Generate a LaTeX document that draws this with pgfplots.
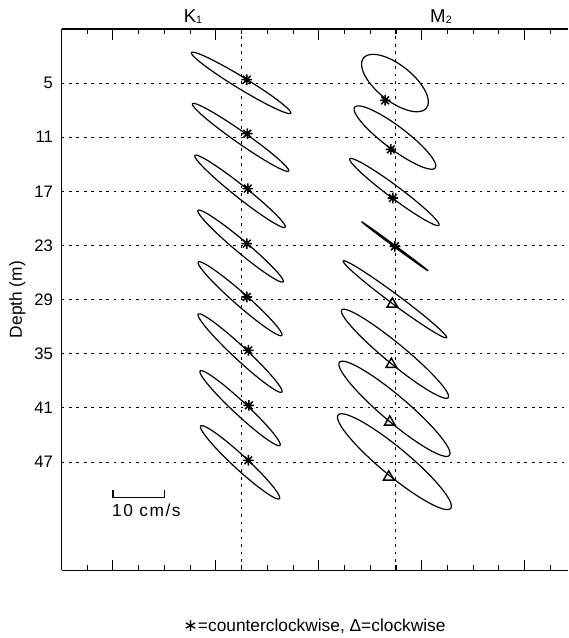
\documentclass[border=0pt]{standalone}
\usepackage{fontspec}
\setmainfont{Liberation Sans}
\newfontfamily\symfont{DejaVu Sans}
\usepackage{pgfplots}
\usepackage{pgfplotstable}
\pgfplotsset{compat=1.18}

% Tidal current ellipses: centre (u in cm/s, depth d in m),
% semi-major A and semi-minor B (cm/s), inclination th (deg, from east)
\pgfplotstableread{
u     d      A     B     th
34.9  4.98   11.3  1.15  -31.4
34.8  11.02  11.4  1.15  -35.0
34.7  17.0   11.2  1.2   -38.5
34.8  23.07  10.8  1.2   -40.0
34.7  28.9   10.8  1.25  -41.3
34.7  34.93  11.1  1.3   -43.0
34.7  41.03  10.6  1.3   -43.0
34.7  47.03  10.4  1.35  -42.7
64.8  5.0    7.8   3.5   -38.5
64.8  11.04  9.8   2.2   -37.0
64.7  17.08  10.8  1.2   -36.7
64.8  23.1   8.0   0.15  -36.4
64.8  28.97  12.5  0.95  -36.6
64.8  35.0   13.4  1.95  -39.5
64.7  41.1   14.0  2.5   -40.3
64.7  46.96  14.2  2.7   -39.7
}\ellipses

% phase points, counterclockwise rotation
\pgfplotstableread{
u     d
36.0  4.62
36.1  10.61
36.2  16.70
36.0  22.80
36.0  28.71
36.3  34.62
36.4  40.72
36.3  46.81
62.9  6.92
64.0  12.35
64.4  17.74
64.8  23.1
}\ccw

% phase points, clockwise rotation
\pgfplotstableread{
u     d
64.3  29.49
64.1  36.17
63.8  42.57
63.6  48.66
}\cw

% metres of depth per cm/s, so that ellipses keep true shape
\def\kdepth{0.5703}

% eight-armed asterisk
\pgfdeclareplotmark{ast8}{%
  \pgfpathmoveto{\pgfqpoint{-\pgfplotmarksize}{0pt}}%
  \pgfpathlineto{\pgfqpoint{\pgfplotmarksize}{0pt}}%
  \pgfpathmoveto{\pgfqpoint{0pt}{-\pgfplotmarksize}}%
  \pgfpathlineto{\pgfqpoint{0pt}{\pgfplotmarksize}}%
  \pgfpathmoveto{\pgfqpoint{-.72\pgfplotmarksize}{-.72\pgfplotmarksize}}%
  \pgfpathlineto{\pgfqpoint{.72\pgfplotmarksize}{.72\pgfplotmarksize}}%
  \pgfpathmoveto{\pgfqpoint{-.72\pgfplotmarksize}{.72\pgfplotmarksize}}%
  \pgfpathlineto{\pgfqpoint{.72\pgfplotmarksize}{-.72\pgfplotmarksize}}%
  \pgfusepathqstroke}

\tikzset{
  dotgrid/.style={black, line width=0.75pt, dash pattern=on 2pt off 3.6pt},
  ellipse line/.style={black, line width=0.9pt, no markers, domain=0:360, samples=181},
}

\begin{document}
\begin{tikzpicture}
\begin{axis}[
  name=ax,
  scale only axis,
  width=379.88pt, height=406.05pt,
  xmin=0, xmax=98.43, ymin=-1, ymax=59,
  y dir=reverse,
  clip=false,
  axis x line*=box,
  axis y line*=left,
  axis line style={line width=0.9pt},
  xtick={10,30,50,70,90},
  minor xtick={0,5,...,95},
  xticklabels={},
  xtick pos=both,
  ytick={5,11,17,23,29,35,41,47},
  ytick pos=left,
  y tick style={draw=none},
  tick align=inside,
  major tick length=8pt, minor tick length=4pt,
  every tick/.append style={black, line width=0.8pt},
  ymajorgrids,
  major grid style={dotgrid},
  extra x ticks={35,65},
  extra x tick labels={},
  extra x tick style={xmajorgrids=true, major tick length=0pt},
  /pgf/number format/assume math mode=true,
  yticklabel style={font=\fontsize{12.5}{14}\selectfont, inner sep=0pt, xshift=-6.2pt},
]
\pgfplotsforeachungrouped \i in {0,...,15}{%
  \pgfplotstablegetelem{\i}{u}\of\ellipses \let\eu\pgfplotsretval
  \pgfplotstablegetelem{\i}{d}\of\ellipses \let\ed\pgfplotsretval
  \pgfplotstablegetelem{\i}{A}\of\ellipses \let\eA\pgfplotsretval
  \pgfplotstablegetelem{\i}{B}\of\ellipses \let\eB\pgfplotsretval
  \pgfplotstablegetelem{\i}{th}\of\ellipses \let\eth\pgfplotsretval
  \edef\next{\noexpand\addplot[ellipse line]
    ({\eu+\eA*cos(x)*cos(\eth)-\eB*sin(x)*sin(\eth)},
     {\ed-\kdepth*(\eA*cos(x)*sin(\eth)+\eB*sin(x)*cos(\eth))});}%
  \next
}
\addplot[only marks, mark=ast8, mark size=4pt, line width=1.15pt, black] table[x=u, y=d] {\ccw};
\addplot[only marks, mark=triangle, mark size=4.6pt, line width=1.1pt, black] table[x=u, y=d] {\cw};
% 10 cm/s scale bar
\addplot[black, line width=0.9pt, sharp plot] coordinates {(10,50.1) (10,50.9) (20,50.9) (20,50.1)};
\node[anchor=base west, inner sep=0pt, font=\fontsize{13}{15}\selectfont\addfontfeature{LetterSpace=9}]
  at (axis cs:9.8,53.0) {10 cm/s};
\end{axis}
\node[anchor=base, inner sep=0pt, font=\fontsize{14}{16}\selectfont]
  at ([xshift=98.6pt, yshift=4.65pt]ax.north west) {K{\fontsize{8}{9}\selectfont\raisebox{-0.6pt}{1}}};
\node[anchor=base, inner sep=0pt, font=\fontsize{14}{16}\selectfont]
  at ([xshift=284.6pt, yshift=4.65pt]ax.north west) {M{\fontsize{8}{9}\selectfont\raisebox{-0.6pt}{2}}};
\node[rotate=90, anchor=center, inner sep=0pt, font=\fontsize{13}{15}\selectfont]
  at ([xshift=-33pt]ax.west) {Depth (m)};
\node[anchor=base, inner sep=0pt, font=\fontsize{13}{15}\selectfont]
  at ([xshift=189.75pt, yshift=-45.6pt]ax.south west) {{\symfont ∗}=counterclockwise, Δ=clockwise};
\pgfresetboundingbox
\path[use as bounding box] ([xshift=-46.125pt, yshift=-50.775pt]ax.south west)
  rectangle ([xshift=379.875pt, yshift=21.675pt]ax.north west);
\end{tikzpicture}
\end{document}
